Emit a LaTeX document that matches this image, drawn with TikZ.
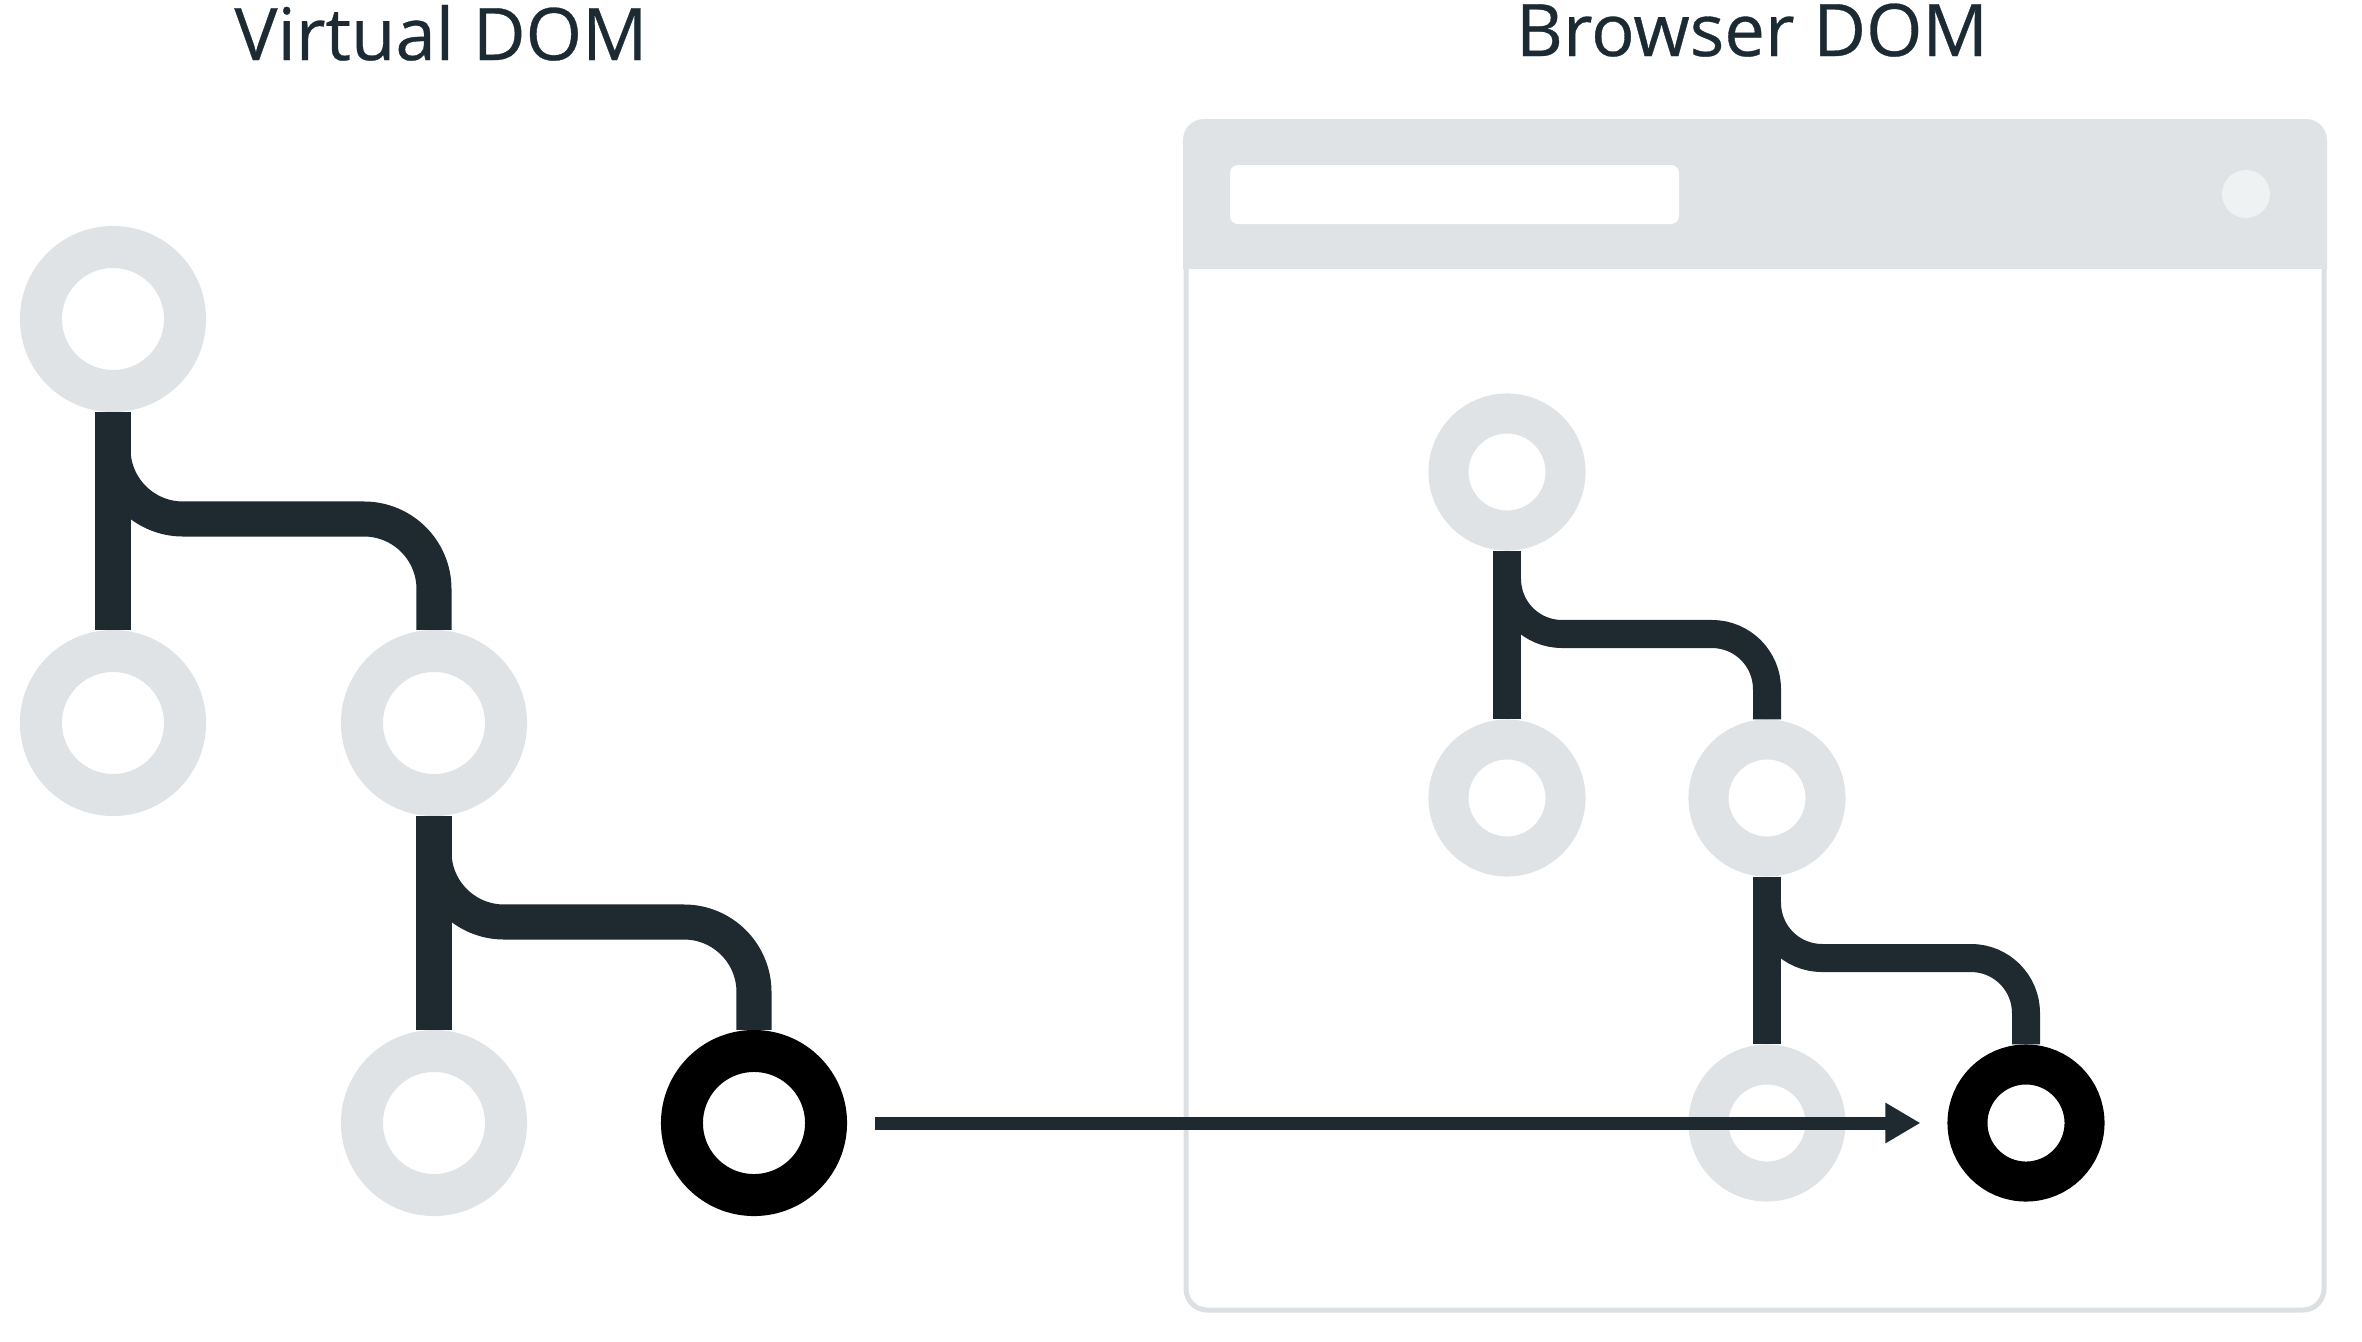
\documentclass[tikz,border=0pt]{standalone}
\usepackage{fontspec}
\setmainfont{Open Sans}
\newfontfamily\titlefont{Open Sans}[FakeBold=0.45]
\usetikzlibrary{calc,arrows.meta}
\definecolor{ringc}{HTML}{DFE3E6}
\definecolor{headc}{HTML}{DFE3E6}
\definecolor{framec}{HTML}{DCE0E3}
\definecolor{darkc}{HTML}{1E2930}
\definecolor{textc}{HTML}{1C2B33}
\definecolor{dotc}{HTML}{EEF2F3}
\tikzset{
  vring/.style={circle, draw=ringc, line width=0.42cm, minimum size=1.44cm, inner sep=0pt, outer sep=0.21cm},
  vhot/.style={vring, draw=black},
  bring/.style={circle, draw=ringc, line width=0.40cm, minimum size=1.17cm, inner sep=0pt, outer sep=0.20cm},
  bhot/.style={bring, draw=black},
  vconn/.style={draw=darkc, line width=0.35cm, rounded corners=0.70cm},
  bconn/.style={draw=darkc, line width=0.28cm, rounded corners=0.55cm},
  arr/.style={draw=darkc, line width=0.13cm, -{Triangle[length=0.35cm, width=0.38cm]}},
  title/.style={anchor=base, text=textc, font=\titlefont\fontsize{20.6pt}{24pt}\selectfont, inner sep=0pt}
}
\begin{document}
\begin{tikzpicture}[x=0.01cm, y=-0.01cm]
\useasboundingbox[fill=white] (0,0) rectangle (2362,1342);
% titles
\node[title] (tv) at (441,60) {Virtual DOM};
\node[title] (tb) at (1752,56) {Browser DOM};
% browser window
\draw[framec, line width=0.05cm, rounded corners=0.21cm] (1186,122) rectangle (2324,1310);
\begin{scope}
  \clip (1150,100) rectangle (2362,268);
  \fill[headc, rounded corners=0.21cm] (1183,119) rectangle (2327,400);
\end{scope}
\fill[white, rounded corners=0.08cm] (1230,165) rectangle (1679,224);
\fill[dotc] (2246,194) circle[radius=24];
% virtual DOM tree
\node[vring] (v1) at (113,319) {};
\node[vring] (v2) at (113,723) {};
\node[vring] (v3) at (434,723) {};
\node[vring] (v4) at (434,1123) {};
\node[vhot]  (v5) at (754,1123) {};
\draw[vconn] (v1) -- (v2);
\draw[vconn] ($(v1)+(0,130)$) |- ($(v3)+(0,-204)$) -- (v3.north);
\draw[vconn] (v3) -- (v4);
\draw[vconn] ($(v3)+(0,130)$) |- ($(v5)+(0,-201)$) -- (v5.north);
% browser DOM tree
\node[bring] (b1) at (1507,472) {};
\node[bring] (b2) at (1507,798) {};
\node[bring] (b3) at (1767,798) {};
\node[bring] (b4) at (1767,1123) {};
\node[bhot]  (b5) at (2026,1123) {};
\draw[bconn] (b1) -- (b2);
\draw[bconn] ($(b1)+(0,107)$) |- ($(b3)+(0,-164)$) -- (b3.north);
\draw[bconn] (b3) -- (b4);
\draw[bconn] ($(b3)+(0,105)$) |- ($(b5)+(0,-165)$) -- (b5.north);
% arrow
\draw[arr] ($(v5.east)+(28,0)$) -- ($(b5.west)+(-27,0)$);
\end{tikzpicture}
\end{document}
